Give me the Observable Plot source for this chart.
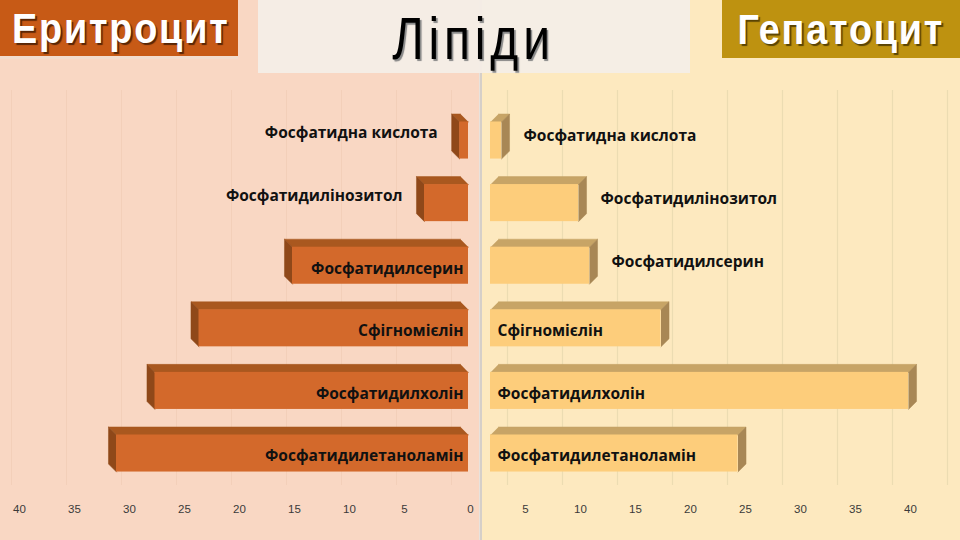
<!DOCTYPE html>
<html>
<head>
<meta charset="utf-8">
<script src="https://cdn.jsdelivr.net/npm/d3@7"></script>
<script src="https://cdn.jsdelivr.net/npm/@observablehq/plot@0.6"></script>
<style>
  html, body { margin: 0; padding: 0; width: 960px; height: 540px; overflow: hidden; }
  #stage { position: relative; width: 960px; height: 540px; overflow: hidden; font-family: "Open Sans", sans-serif; }
  .bgL { position: absolute; left: 0; top: 0; width: 479px; height: 540px; background: #f9d7c3; }
  .bgR { position: absolute; left: 482px; top: 0; width: 478px; height: 540px; background: #fde9bf; }
  .divider { position: absolute; left: 479px; top: 0; width: 3px; height: 540px; background: #d6cfc8; border-left: 1px solid #e8e2dc; box-sizing: border-box; }
  #chart { position: absolute; left: 0; top: 0; }
  .hdr { position: absolute; top: 0; font-family: "Liberation Sans", sans-serif; font-weight: bold; color: #fff; text-align: center; white-space: nowrap; }
  .hdr span { display: inline-block; }
  .hL { left: 0; width: 238px; height: 56px; background: #c75a16; line-height: 58px; font-size: 42px; text-shadow: 2px 2px 1px #5a2606; box-shadow: 0 3px 0 #f2dccd; }
  .hL span, .hR span { letter-spacing: 2px; transform: scaleX(0.9); }
  .hR { left: 722px; width: 238px; height: 58px; background: #be9210; line-height: 60px; font-size: 42px; text-shadow: 2px 2px 1px #5a4404; }
  .hT { left: 258px; width: 432px; height: 73px; background: rgba(245,237,230,0.96); color: #000; font-weight: normal; font-size: 60px; line-height: 78px; text-shadow: 2px 2px 1px #888; }
  .hT span { letter-spacing: 6px; transform: scaleX(0.8); }
</style>
</head>
<body>
<div id="stage">
  <div class="bgL"></div>
  <div class="bgR"></div>
  <div class="divider"></div>
  <div id="chart"></div>
  <div class="hdr hT"><span>Ліпіди</span></div>
  <div class="hdr hL"><span>Еритроцит</span></div>
  <div class="hdr hR"><span>Гепатоцит</span></div>
</div>
<script>
// ---- data ----
const categories = ["Фосфатидна кислота", "Фосфатидилінозитол", "Фосфатидилсерин", "Сфігномієлін", "Фосфатидилхолін", "Фосфатидилетаноламін"];
const erythrocyte = [0.8, 4, 16, 24.5, 28.5, 32];
const hepatocyte = [1, 8, 9, 15.5, 38, 22.5];
const leftTicks = [5, 10, 15, 20, 25, 30, 35, 40];
const rightTicks = [0, 5, 10, 15, 20, 25, 30, 35, 40];
const gridTicks = [0, 5, 10, 15, 20, 25, 30, 35, 40];

// ---- geometry helpers (style constants) ----
const GAP = 1;       // half gap between the two halves, in value units
const DX = 0.73;     // 3D depth, x units
const DY = 0.128;    // 3D depth, y units
const HH = 0.296;    // half bar height, y units

const rows = categories.map((c, i) => ({c, i, left: erythrocyte[i], right: hepatocyte[i]}));

function buildFaces(side) {
  const fronts = [], tops = [], sides = [];
  rows.forEach(r => {
    const s = side === "left" ? -1 : 1;
    const v = side === "left" ? r.left : r.right;
    const x0 = s * GAP, x1 = s * (v + GAP);
    const yT = r.i - HH, yB = r.i + HH;
    fronts.push({x1: Math.min(x0, x1), x2: Math.max(x0, x1), y1: yT, y2: yB});
    const id = side + r.i;
    [[x0, yT], [x1, yT], [x1 + s * DX, yT - DY], [x0 + s * DX, yT - DY]]
      .forEach(([x, y]) => tops.push({id, x, y}));
    [[x1, yT], [x1 + s * DX, yT - DY], [x1 + s * DX, yB - DY], [x1, yB]]
      .forEach(([x, y]) => sides.push({id, x, y}));
  });
  return {fronts, tops, sides};
}
const L = buildFaces("left"), R = buildFaces("right");

const labelFont = {fontFamily: "'Open Sans', sans-serif", fontWeight: 700, fontSize: 15.5, fill: "#111"};
const tickFont = {fontFamily: "'Liberation Sans', sans-serif", fontSize: 11.5, fill: "#3a3a3a"};

const chart = Plot.plot({
  width: 960,
  height: 540,
  marginTop: 90,
  marginBottom: 55,
  marginLeft: 0,
  marginRight: 0,
  style: {background: "transparent", overflow: "visible"},
  x: {domain: [-479 / 11, 481 / 11], axis: null},
  y: {domain: [-0.799, 5.511], reverse: true, axis: null},
  marks: [
    // faint back-wall gridlines
    Plot.ruleX(gridTicks, {x: d => d + GAP, dx: 17, stroke: "#ecdcb2", strokeWidth: 1.2}),
    Plot.ruleX(gridTicks, {x: d => -(d + GAP), dx: -17, stroke: "#f3cfb9", strokeWidth: 1}),
    // left bars (erythrocyte)
    Plot.line(L.tops, {x: "x", y: "y", z: "id", fill: "#a9581f", stroke: "#a9581f", strokeWidth: 0.5}),
    Plot.line(L.sides, {x: "x", y: "y", z: "id", fill: "#8f4819", stroke: "#8f4819", strokeWidth: 0.5}),
    Plot.rect(L.fronts, {x1: "x1", x2: "x2", y1: "y1", y2: "y2", fill: "#d3692b"}),
    // right bars (hepatocyte)
    Plot.line(R.tops, {x: "x", y: "y", z: "id", fill: "#c7a466", stroke: "#c7a466", strokeWidth: 0.5}),
    Plot.line(R.sides, {x: "x", y: "y", z: "id", fill: "#a88755", stroke: "#a88755", strokeWidth: 0.5}),
    Plot.rect(R.fronts, {x1: "x1", x2: "x2", y1: "y1", y2: "y2", fill: "#fdcd7b"}),
    // category labels, left
    Plot.text(rows.filter(d => d.left >= 10), {x: d => -GAP, y: "i", text: "c", textAnchor: "end", dx: -5, dy: 3, ...labelFont}),
    Plot.text(rows.filter(d => d.left < 10), {x: d => -(d.left + GAP), y: "i", text: "c", textAnchor: "end", dx: -22, dy: -7, ...labelFont}),
    // category labels, right
    Plot.text(rows.filter(d => d.right >= 10), {x: d => GAP, y: "i", text: "c", textAnchor: "start", dx: 7, dy: 3, ...labelFont}),
    Plot.text(rows.filter(d => d.right < 10), {x: d => d.right + GAP, y: "i", text: "c", textAnchor: "start", dx: 22, dy: -4, ...labelFont}),
    // tick labels
    Plot.text(leftTicks, {x: d => -(d + GAP), frameAnchor: "bottom", dy: 27, dx: -9, text: d => String(d), ...tickFont}),
    Plot.text(rightTicks, {x: d => d + GAP, frameAnchor: "bottom", dy: 27, dx: -20, text: d => String(d), ...tickFont})
  ]
});
document.getElementById("chart").appendChild(chart);
</script>
</body>
</html>
